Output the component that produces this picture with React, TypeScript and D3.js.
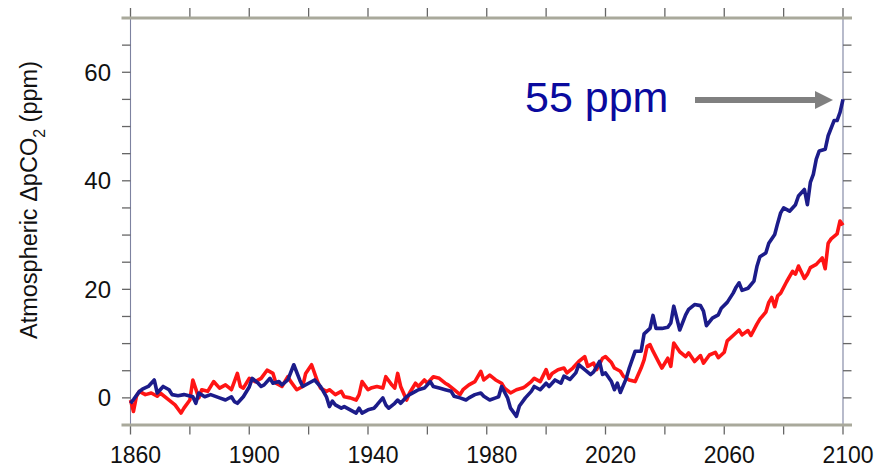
import React from "react";
import * as d3 from "d3";

// Simulated change in atmospheric pCO2 (ppm) relative to the control run.
// Each entry is [year, ΔpCO2].
const redSeries: [number, number][] = [
  [1860, -0.4], [1861, -2.5], [1862, 0.3], [1863, 1.2], [1865, 0.6], [1867, 0.9], [1869, 0.3],
  [1870, 0.9], [1873, -0.4], [1875, -1.3], [1877, -2.8], [1878, -1.9], [1880, -0.4], [1881, 3.3],
  [1883, 0.0], [1884, 1.5], [1886, 1.2], [1888, 3.0], [1890, 1.8], [1892, 2.4], [1894, 1.5],
  [1896, 4.5], [1897, 2.1], [1898, 1.8], [1900, 3.6], [1902, 3.0], [1904, 3.6], [1906, 5.1],
  [1908, 4.5], [1909, 2.7], [1911, 2.1], [1913, 3.9], [1914, 3.0], [1916, 1.5], [1918, 2.1],
  [1919, 4.5], [1921, 6.1], [1923, 3.0], [1924, 1.8], [1926, 1.2], [1927, 1.5], [1929, 0.6],
  [1931, 1.2], [1932, 0.2], [1934, 0.0], [1936, -0.4], [1937, 0.6], [1938, 3.0], [1940, 1.5],
  [1941, 1.8], [1943, 2.1], [1945, 1.8], [1946, 3.9], [1948, 2.4], [1949, 1.8], [1950, 4.5],
  [1951, 2.1], [1953, -0.4], [1954, 0.9], [1956, 2.7], [1957, 2.1], [1959, 3.3], [1960, 2.7],
  [1962, 3.9], [1964, 3.6], [1966, 2.7], [1967, 2.4], [1969, 1.5], [1971, 0.6], [1972, 1.5],
  [1974, 2.4], [1976, 3.0], [1978, 4.9], [1979, 3.3], [1981, 4.2], [1983, 3.3], [1985, 2.7],
  [1986, 1.8], [1988, 0.9], [1990, 1.5], [1992, 1.8], [1993, 2.1], [1995, 3.0], [1996, 3.6],
  [1998, 3.0], [2000, 5.2], [2001, 3.6], [2002, 4.5], [2004, 5.2], [2006, 5.5], [2007, 4.6],
  [2009, 5.5], [2011, 6.7], [2013, 7.6], [2014, 5.8], [2016, 6.4], [2017, 5.2], [2019, 7.3],
  [2020, 7.6], [2022, 6.5], [2023, 5.5], [2025, 4.9], [2026, 4.0], [2028, 3.3], [2030, 3.0],
  [2032, 5.5], [2033, 7.0], [2034, 9.5], [2035, 9.8], [2036, 8.6], [2038, 6.5], [2039, 5.5],
  [2041, 7.3], [2042, 5.8], [2043, 10.1], [2045, 8.5], [2047, 7.6], [2048, 8.3], [2050, 6.7],
  [2052, 7.8], [2053, 6.4], [2055, 7.9], [2057, 8.4], [2058, 7.4], [2060, 8.4], [2061, 10.5],
  [2063, 11.5], [2065, 12.5], [2066, 11.6], [2068, 12.4], [2069, 11.5], [2071, 13.6], [2072, 14.5],
  [2074, 15.8], [2075, 17.6], [2076, 18.5], [2077, 16.8], [2078, 18.8], [2079, 19.3], [2081, 21.4],
  [2083, 23.3], [2084, 22.8], [2085, 24.3], [2087, 22.0], [2088, 22.8], [2089, 24.0], [2091, 24.6],
  [2093, 25.8], [2094, 23.8], [2095, 28.5], [2096, 29.3], [2098, 30.2], [2099, 32.6], [2100, 31.8],
];

const blueSeries: [number, number][] = [
  [1860, -1.0], [1861, -0.3], [1863, 1.2], [1864, 1.6], [1866, 2.1], [1868, 3.3], [1869, 0.9],
  [1871, 2.1], [1873, 1.5], [1874, 0.6], [1876, 0.4], [1878, 0.6], [1881, 0.2], [1882, -1.0],
  [1883, 0.9], [1885, 0.2], [1887, 0.6], [1890, 0.0], [1892, -0.4], [1894, 0.2], [1895, -0.7],
  [1896, -1.0], [1898, 0.2], [1900, 2.0], [1901, 3.6], [1903, 2.7], [1904, 2.1], [1905, 2.4],
  [1907, 3.6], [1908, 2.7], [1910, 3.0], [1911, 2.4], [1913, 3.3], [1915, 6.1], [1917, 3.3],
  [1918, 2.1], [1920, 2.7], [1922, 3.3], [1924, 2.1], [1926, 0.2], [1927, -1.6], [1928, -0.6],
  [1929, -1.3], [1931, -1.9], [1932, -1.6], [1934, -2.2], [1936, -2.8], [1937, -1.9], [1938, -2.8],
  [1940, -2.2], [1942, -1.9], [1943, -1.3], [1945, 0.0], [1946, -1.3], [1947, -1.9], [1949, -1.0],
  [1950, -0.4], [1951, -1.0], [1953, 0.2], [1954, 0.6], [1956, 1.2], [1957, 1.5], [1959, 1.8],
  [1961, 3.0], [1962, 2.1], [1964, 1.8], [1966, 1.5], [1968, 1.2], [1969, 0.3], [1971, 0.0],
  [1973, -0.4], [1974, 0.0], [1976, 0.6], [1978, 0.9], [1979, 0.3], [1981, -0.4], [1983, 0.0],
  [1984, 0.2], [1985, 2.1], [1987, 0.0], [1988, -1.9], [1990, -3.4], [1991, -1.5], [1993, 0.0],
  [1995, 1.2], [1996, 2.1], [1998, 1.5], [2000, 2.7], [2001, 2.1], [2003, 3.3], [2005, 2.7],
  [2006, 4.0], [2008, 3.4], [2010, 4.6], [2011, 6.1], [2013, 5.2], [2015, 4.3], [2016, 4.8],
  [2018, 6.7], [2019, 4.3], [2020, 4.6], [2022, 3.0], [2023, 1.5], [2024, 2.7], [2025, 1.0],
  [2027, 3.6], [2028, 5.5], [2030, 8.6], [2032, 8.6], [2033, 11.8], [2035, 12.8], [2036, 15.2],
  [2037, 12.8], [2039, 12.8], [2041, 13.0], [2042, 13.8], [2043, 16.9], [2045, 12.5], [2047, 15.3],
  [2048, 16.3], [2050, 17.2], [2052, 17.0], [2053, 16.0], [2054, 13.3], [2056, 14.7], [2058, 15.3],
  [2059, 16.5], [2061, 17.6], [2063, 19.3], [2064, 20.4], [2065, 21.2], [2066, 19.8], [2068, 20.2],
  [2070, 21.5], [2071, 24.2], [2072, 26.0], [2074, 26.7], [2075, 28.5], [2077, 30.1], [2078, 32.2],
  [2079, 34.1], [2080, 35.0], [2082, 34.4], [2084, 35.6], [2085, 37.2], [2087, 38.4], [2088, 35.6],
  [2089, 39.7], [2090, 41.2], [2091, 44.0], [2092, 45.5], [2094, 45.8], [2095, 48.3], [2097, 51.1],
  [2098, 51.1], [2099, 52.6], [2100, 55.0],
];

const xTickYears = [1860, 1880, 1900, 1920, 1940, 1960, 1980, 2000, 2020, 2040, 2060, 2080, 2100];
const xLabelYears = [1860, 1900, 1940, 1980, 2020, 2060, 2100];
const yTickValues = [-5, 0, 5, 10, 15, 20, 25, 30, 35, 40, 45, 50, 55, 60, 65, 70];
const yLabelValues = [0, 20, 40, 60];
const endLabel = "55 ppm";
const endValue = 55;

const W = 877;
const H = 468;
const FONT = "'Liberation Sans', Arial, Helvetica, sans-serif";

export default function App() {
  const x = d3.scaleLinear().domain([1860, 2100]).range([130.5, 843]);
  const y = d3.scaleLinear().domain([-5, 70]).range([425, 18]);

  const line = d3
    .line<[number, number]>()
    .x((d) => x(d[0]))
    .y((d) => y(d[1]))
    .curve(d3.curveLinear);

  const left = x(1860);
  const right = x(2100);
  const top = y(70);
  const bottom = y(-5);
  const frameColor = "#a9a99b";
  const tickColor = "#666666";

  const arrowY = y(endValue) + 0.5;
  const arrowTip = right - 10;

  return (
    <svg
      width={W}
      height={H}
      viewBox={`0 0 ${W} ${H}`}
      style={{ position: "absolute", left: 0, top: 0, background: "#fff" }}
      fontFamily={FONT}
    >
      <rect x={0} y={0} width={W} height={H} fill="#fff" />

      {/* side axes */}
      <line x1={left} x2={left} y1={top} y2={bottom} stroke="#7d82a0" strokeWidth={1.1} />
      <line x1={right} x2={right} y1={top} y2={bottom} stroke="#7d82a0" strokeWidth={1.1} />

      {/* y ticks, left and right */}
      {yTickValues.map((v) => (
        <g key={`yt${v}`}>
          <line x1={left - 8.5} x2={left} y1={y(v)} y2={y(v)} stroke={tickColor} strokeWidth={1.3} />
          <line x1={right} x2={right + 8.5} y1={y(v)} y2={y(v)} stroke={tickColor} strokeWidth={1.3} />
        </g>
      ))}

      {/* x ticks, top and bottom */}
      {xTickYears.map((yr) => (
        <g key={`xt${yr}`}>
          <line x1={x(yr)} x2={x(yr)} y1={top - 10} y2={top} stroke={tickColor} strokeWidth={1.3} />
          <line x1={x(yr)} x2={x(yr)} y1={bottom} y2={bottom + 9.5} stroke={tickColor} strokeWidth={1.3} />
        </g>
      ))}

      {/* top and bottom frame */}
      <line x1={left - 9} x2={right + 9} y1={top} y2={top} stroke={frameColor} strokeWidth={3} />
      <line x1={left - 9} x2={right + 9} y1={bottom} y2={bottom} stroke={frameColor} strokeWidth={3} />

      {/* series */}
      <path d={line(redSeries) ?? ""} fill="none" stroke="#ff1414" strokeWidth={3.6} strokeLinejoin="round" />
      <path d={line(blueSeries) ?? ""} fill="none" stroke="#1c1c8a" strokeWidth={3.6} strokeLinejoin="round" />

      {/* tick labels */}
      {yLabelValues.map((v) => (
        <text key={`yl${v}`} x={111} y={y(v) + 8.5} textAnchor="end" fontSize={24} fill="#111">
          {v}
        </text>
      ))}
      {xLabelYears.map((yr) => (
        <text key={`xl${yr}`} x={x(yr) + 5} y={463} textAnchor="middle" fontSize={23} fill="#111">
          {yr}
        </text>
      ))}

      {/* axis title */}
      <text
        transform={`translate(37, 200) rotate(-90)`}
        textAnchor="middle"
        fontSize={23.5}
        fill="#111"
      >
        Atmospheric ΔpCO
        <tspan fontSize={16} dy={8}>2</tspan>
        <tspan dy={-8}>{"  (ppm)"}</tspan>
      </text>

      {/* end-of-run annotation */}
      <text x={525} y={112} fontSize={43} fill="#0a0a9e">
        {endLabel}
      </text>
      <line x1={695} x2={arrowTip - 16} y1={arrowY} y2={arrowY} stroke="#808080" strokeWidth={6} />
      <path
        d={`M${arrowTip},${arrowY} L${arrowTip - 18},${arrowY - 9} L${arrowTip - 18},${arrowY + 9} Z`}
        fill="#808080"
      />
    </svg>
  );
}
